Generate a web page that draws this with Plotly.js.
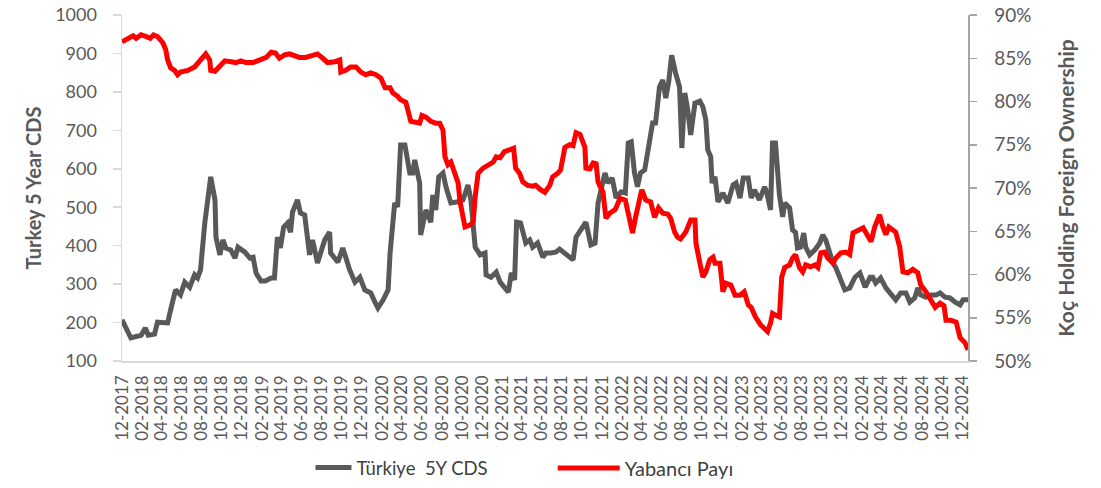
<!DOCTYPE html>
<html>
<head>
<meta charset="utf-8">
<script src="https://cdn.plot.ly/plotly-3.0.1.min.js"></script>
<style>html,body{margin:0;padding:0;background:#fff;}#chart{width:1101px;height:488px;}</style>
</head>
<body>
<div id="chart"></div>
<script>
// ---- Türkiye 5Y CDS (left axis) ----
const cdsDates = ["2017-12-01","2017-12-28","2018-01-28","2018-02-10","2018-02-19","2018-03-10","2018-03-19","2018-04-19","2018-04-28","2018-05-13","2018-05-28","2018-06-10","2018-06-25","2018-07-10","2018-07-19","2018-07-28","2018-08-10","2018-08-19","2018-08-28","2018-09-10","2018-09-13","2018-09-25","2018-10-04","2018-10-13","2018-10-28","2018-11-10","2018-11-19","2018-12-10","2018-12-25","2019-01-04","2019-01-13","2019-01-28","2019-02-10","2019-02-28","2019-03-10","2019-03-19","2019-03-28","2019-04-07","2019-04-19","2019-04-28","2019-05-04","2019-05-19","2019-05-28","2019-06-10","2019-06-25","2019-07-04","2019-07-19","2019-08-10","2019-08-25","2019-08-28","2019-09-19","2019-10-04","2019-10-13","2019-10-25","2019-11-10","2019-11-25","2019-12-10","2019-12-28","2020-01-10","2020-01-19","2020-02-04","2020-02-19","2020-02-25","2020-03-10","2020-03-19","2020-03-28","2020-04-10","2020-04-25","2020-05-04","2020-05-10","2020-05-25","2020-05-28","2020-06-13","2020-06-28","2020-07-04","2020-07-13","2020-07-22","2020-08-04","2020-08-13","2020-08-28","2020-09-19","2020-10-04","2020-10-19","2020-10-28","2020-11-10","2020-11-25","2020-12-10","2020-12-13","2020-12-28","2021-01-13","2021-01-25","2021-02-10","2021-02-19","2021-02-28","2021-03-10","2021-03-16","2021-03-28","2021-04-13","2021-04-25","2021-05-04","2021-05-19","2021-06-04","2021-06-13","2021-06-28","2021-07-13","2021-07-25","2021-08-10","2021-08-25","2021-09-04","2021-09-13","2021-09-28","2021-10-13","2021-10-28","2021-11-10","2021-11-19","2021-11-28","2021-12-10","2021-12-19","2022-01-01","2022-01-13","2022-01-28","2022-02-10","2022-02-19","2022-02-28","2022-03-10","2022-03-19","2022-03-28","2022-04-10","2022-04-25","2022-05-04","2022-05-13","2022-05-25","2022-06-04","2022-06-13","2022-06-22","2022-07-01","2022-07-13","2022-07-25","2022-08-01","2022-08-10","2022-08-19","2022-08-28","2022-09-10","2022-09-25","2022-10-04","2022-10-13","2022-10-19","2022-10-28","2022-11-01","2022-11-10","2022-11-19","2022-12-04","2022-12-19","2023-01-04","2023-01-13","2023-01-25","2023-02-04","2023-02-19","2023-02-28","2023-03-10","2023-03-25","2023-04-10","2023-04-16","2023-04-28","2023-05-04","2023-05-13","2023-05-25","2023-06-04","2023-06-10","2023-06-25","2023-07-04","2023-07-13","2023-07-19","2023-07-28","2023-08-07","2023-08-13","2023-08-25","2023-09-10","2023-09-25","2023-10-04","2023-10-13","2023-10-25","2023-11-04","2023-11-13","2023-11-25","2023-12-10","2023-12-25","2024-01-10","2024-01-25","2024-02-10","2024-02-25","2024-03-04","2024-03-13","2024-03-28","2024-04-13","2024-04-28","2024-05-13","2024-05-28","2024-06-13","2024-06-25","2024-07-10","2024-07-19","2024-07-28","2024-08-13","2024-08-28","2024-09-13","2024-09-25","2024-10-10","2024-10-25","2024-11-10","2024-11-25","2024-12-04","2024-12-19"];
const cdsValues = [207,160,167,186,167,170,201,199,233,285,272,305,292,324,316,337,459,511,579,519,422,376,415,394,389,368,396,383,368,370,329,308,308,316,316,422,394,448,459,435,487,519,485,480,376,415,355,415,435,381,357,394,370,337,305,318,285,277,253,238,259,285,381,511,501,662,662,589,589,623,563,428,493,461,532,493,579,589,553,511,514,519,558,519,396,376,381,324,318,331,305,285,279,329,311,461,459,407,415,396,407,370,381,381,383,391,381,368,363,422,441,461,402,407,511,540,589,563,576,524,540,537,667,670,589,553,589,597,683,719,719,813,831,784,826,895,849,813,654,797,753,688,771,776,761,727,649,631,563,579,514,537,511,558,563,524,576,576,524,545,519,553,540,493,667,667,532,475,511,498,441,435,394,396,433,396,376,389,407,428,415,383,355,342,318,285,290,318,329,292,318,318,303,316,290,272,259,277,277,253,264,290,272,266,272,272,277,266,264,253,246,259,259];

// ---- Yabancı Payı, % (right axis) ----
const shareDates = ["2017-12-01","2017-12-19","2018-01-04","2018-01-13","2018-01-28","2018-02-13","2018-02-25","2018-03-07","2018-03-19","2018-04-04","2018-04-13","2018-04-19","2018-04-28","2018-05-10","2018-05-19","2018-05-28","2018-06-19","2018-07-10","2018-07-25","2018-08-13","2018-08-25","2018-08-28","2018-09-10","2018-09-25","2018-10-10","2018-10-28","2018-11-13","2018-11-28","2018-12-13","2019-01-04","2019-01-19","2019-02-04","2019-02-13","2019-02-28","2019-03-13","2019-03-25","2019-04-10","2019-04-25","2019-05-10","2019-05-25","2019-06-13","2019-06-28","2019-07-19","2019-08-04","2019-08-19","2019-09-10","2019-09-25","2019-09-28","2019-10-13","2019-10-28","2019-11-13","2019-11-28","2019-12-13","2019-12-28","2020-01-13","2020-01-28","2020-02-10","2020-02-25","2020-03-04","2020-03-19","2020-03-28","2020-04-13","2020-04-28","2020-05-13","2020-05-25","2020-06-01","2020-06-13","2020-06-28","2020-07-13","2020-07-25","2020-08-04","2020-08-10","2020-08-19","2020-08-28","2020-09-10","2020-09-19","2020-09-25","2020-10-04","2020-10-10","2020-10-25","2020-11-04","2020-11-10","2020-11-19","2020-12-04","2020-12-19","2021-01-04","2021-01-13","2021-01-25","2021-02-07","2021-02-25","2021-03-07","2021-03-13","2021-03-25","2021-04-04","2021-04-19","2021-05-04","2021-05-13","2021-05-28","2021-06-10","2021-06-25","2021-07-04","2021-07-19","2021-07-28","2021-08-10","2021-08-25","2021-09-04","2021-09-13","2021-09-25","2021-10-10","2021-10-13","2021-10-25","2021-11-04","2021-11-13","2021-11-19","2021-12-04","2021-12-13","2021-12-25","2022-01-10","2022-01-25","2022-02-10","2022-02-19","2022-03-04","2022-03-13","2022-03-25","2022-04-01","2022-04-13","2022-04-28","2022-05-10","2022-05-22","2022-06-04","2022-06-19","2022-06-28","2022-07-10","2022-07-19","2022-07-28","2022-08-13","2022-08-28","2022-09-10","2022-09-13","2022-09-25","2022-10-04","2022-10-13","2022-10-25","2022-11-04","2022-11-10","2022-11-25","2022-12-04","2022-12-13","2022-12-28","2023-01-10","2023-01-25","2023-02-07","2023-02-19","2023-02-28","2023-03-13","2023-03-28","2023-04-10","2023-04-19","2023-04-28","2023-05-04","2023-05-13","2023-05-25","2023-06-01","2023-06-10","2023-06-25","2023-07-04","2023-07-13","2023-07-25","2023-08-04","2023-08-13","2023-08-28","2023-09-10","2023-09-19","2023-09-28","2023-10-10","2023-10-19","2023-11-04","2023-11-13","2023-11-28","2023-12-13","2023-12-25","2024-01-04","2024-01-19","2024-02-04","2024-02-13","2024-02-28","2024-03-10","2024-03-19","2024-03-25","2024-04-04","2024-04-13","2024-04-22","2024-05-04","2024-05-13","2024-05-25","2024-06-04","2024-06-19","2024-07-04","2024-07-19","2024-07-28","2024-08-13","2024-08-28","2024-09-10","2024-09-25","2024-10-07","2024-10-13","2024-10-28","2024-11-13","2024-11-25","2024-12-10","2024-12-19"];
const shareValues = [86.9,87.3,87.6,87.3,87.7,87.5,87.3,87.7,87.5,86.8,86.0,84.8,83.9,83.6,83.1,83.4,83.6,84.0,84.6,85.5,84.8,83.6,83.5,84.2,84.7,84.6,84.5,84.7,84.5,84.5,84.7,85.0,85.1,85.7,85.6,85.0,85.4,85.5,85.3,85.1,85.1,85.3,85.5,85.0,84.5,84.6,84.8,83.4,83.6,84.0,84.0,83.4,83.1,83.3,83.1,82.7,81.6,81.6,81.0,80.6,80.2,79.9,77.7,77.6,77.5,78.4,78.2,77.7,77.5,77.5,76.7,73.6,72.7,73.0,71.8,70.6,68.4,66.5,65.5,65.7,66.1,69.0,71.7,72.3,72.7,73.0,73.6,73.5,74.2,74.4,74.6,72.3,71.7,70.7,70.3,70.2,70.3,69.8,69.5,70.3,71.3,71.7,72.1,74.7,75.0,74.9,76.4,76.2,74.7,72.3,72.2,72.9,72.8,70.7,69.5,66.5,67.1,67.5,68.8,68.6,67.1,64.8,66.6,68.8,69.8,68.6,68.4,66.6,67.7,67.1,67.0,66.5,64.9,64.3,64.1,64.9,66.3,66.3,63.6,61.3,59.7,60.3,61.7,62.0,61.3,61.3,58.0,59.0,58.8,57.6,57.6,58.0,56.5,56.2,55.1,54.2,53.6,53.4,54.4,55.5,55.3,55.1,59.7,60.8,61.1,61.9,62.3,60.8,60.3,61.1,60.9,61.1,60.8,62.5,62.6,61.9,61.3,61.9,62.5,62.6,62.3,64.8,65.1,65.4,64.8,63.8,65.5,66.6,66.9,65.5,64.6,65.5,65.1,64.9,63.2,60.3,60.2,60.6,60.2,58.8,58.0,57.1,56.2,56.7,56.4,54.7,54.7,54.5,52.7,52.1,51.3];

// ---- tick labels ----
const xTickText = ["12-2017","02-2018","04-2018","06-2018","08-2018","10-2018","12-2018","02-2019","04-2019","06-2019","08-2019","10-2019","12-2019","02-2020","04-2020","06-2020","08-2020","10-2020","12-2020","02-2021","04-2021","06-2021","08-2021","10-2021","12-2021","02-2022","04-2022","06-2022","08-2022","10-2022","12-2022","02-2023","04-2023","06-2023","08-2023","10-2023","12-2023","02-2024","04-2024","06-2024","08-2024","10-2024","12-2024"];
const xTickVals = xTickText.map(t => t.slice(3) + "-" + t.slice(0, 2) + "-01");

const leftTicks = [100,200,300,400,500,600,700,800,900,1000];
const rightTicks = [50,55,60,65,70,75,80,85,90];
const rightTickText = ["50%","55%","60%","65%","70%","75%","80%","85%","90%"];

const FONT = "Lato, 'Open Sans', sans-serif";
const TXT = "#595959";

const traces = [
  {x: cdsDates, y: cdsValues, type: "scatter", mode: "lines", name: "Türkiye  5Y CDS",
   line: {color: "#595959", width: 5}, yaxis: "y", legend: "legend"},
  {x: shareDates, y: shareValues, type: "scatter", mode: "lines", name: "Yabancı Payı",
   line: {color: "#ff0000", width: 5}, yaxis: "y2", legend: "legend2"}
];

const layout = {
  width: 1101, height: 488,
  margin: {l: 122, r: 133, t: 15, b: 127},
  paper_bgcolor: "#ffffff", plot_bgcolor: "#ffffff",
  font: {family: FONT, color: TXT},
  showlegend: true,
  xaxis: {
    type: "date", range: ["2017-12-01", "2024-12-19"], automargin: false,
    tickmode: "array", tickvals: xTickVals, ticktext: xTickText,
    tickangle: -90, tickfont: {size: 17, color: TXT, family: FONT},
    showgrid: false, zeroline: false, showline: true, linecolor: "#d9d9d9", linewidth: 1.5,
    ticks: "", ticklabelstandoff: 6
  },
  yaxis: {
    range: [100, 1000], tickmode: "array", tickvals: leftTicks, automargin: false,
    tickfont: {size: 18, color: TXT, family: FONT},
    showgrid: false, zeroline: false, showline: true, linecolor: "#d9d9d9", linewidth: 1.5,
    ticks: "outside", ticklen: 8, tickcolor: "#d9d9d9", tickwidth: 1.5, ticklabelstandoff: 12,
    title: {text: "Turkey 5 Year CDS", font: {size: 20, color: TXT, family: FONT, weight: "bold"}, standoff: 8}
  },
  yaxis2: {
    overlaying: "y", side: "right", range: [50, 90], tickmode: "array", tickvals: rightTicks,
    ticktext: rightTickText, automargin: false,
    tickfont: {size: 19, color: TXT, family: FONT},
    showgrid: false, zeroline: false, showline: true, linecolor: "#a6a6a6", linewidth: 1.5,
    ticks: "outside", ticklen: 7, tickcolor: "#a6a6a6", tickwidth: 1.5, ticklabelstandoff: 14,
    title: {text: "Koç Holding Foreign Ownership", font: {size: 21, color: TXT, family: FONT, weight: "bold"}, standoff: 28}
  },
  legend: {orientation: "h", xref: "container", yref: "container", x: 0.282, xanchor: "left", y: 0.041, yanchor: "middle",
           font: {size: 18.5, color: "#404040", family: FONT}, itemwidth: 36, bgcolor: "rgba(0,0,0,0)"},
  legend2: {orientation: "h", xref: "container", yref: "container", x: 0.502, xanchor: "left", y: 0.041, yanchor: "middle",
           font: {size: 20, color: "#404040", family: FONT}, itemwidth: 62, bgcolor: "rgba(0,0,0,0)"}
};

Plotly.newPlot("chart", traces, layout, {displayModeBar: false, staticPlot: true});
</script>
</body>
</html>
